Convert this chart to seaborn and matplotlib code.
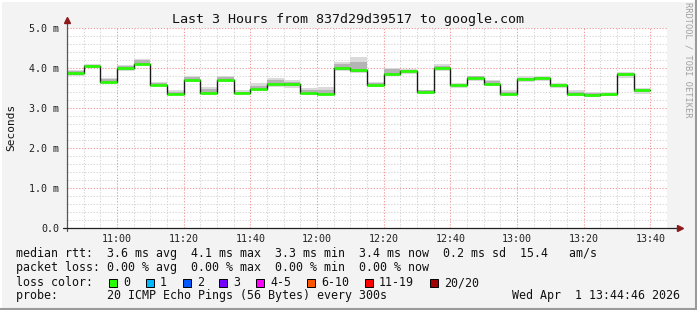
import numpy as np
import pandas as pd
import matplotlib
matplotlib.use("Agg")
import matplotlib.pyplot as plt
from matplotlib.patches import Rectangle
from matplotlib.lines import Line2D
import seaborn as sns

# ---------------- data ----------------
# step start, minutes after 10:45 (each step = 5 min)
step_start = [0, 5, 10, 15, 20, 25, 30, 35, 40, 45, 50, 55, 60, 65, 70, 75, 80,
              85, 90, 95, 100, 105, 110, 115, 120, 125, 130, 135, 140, 145, 150,
              155, 160, 165, 170]
median_ms = [3.87, 4.04, 3.65, 4.00, 4.11, 3.58, 3.36, 3.70, 3.38, 3.71, 3.38, 3.48,
             3.60, 3.60, 3.37, 3.36, 3.99, 3.95, 3.58, 3.86, 3.92, 3.40, 4.00, 3.57,
             3.75, 3.61, 3.34, 3.72, 3.75, 3.57, 3.35, 3.33, 3.34, 3.85, 3.44]
smoke_min = [3.79, 3.99, 3.62, 3.92, 4.07, 3.55, 3.32, 3.66, 3.34, 3.66, 3.34, 3.42,
             3.53, 3.51, 3.33, 3.33, 3.93, 3.87, 3.52, 3.80, 3.84, 3.34, 3.93, 3.49,
             3.67, 3.56, 3.29, 3.66, 3.67, 3.50, 3.30, 3.28, 3.31, 3.76, 3.36]
smoke_max = [3.95, 4.10, 3.76, 4.08, 4.23, 3.64, 3.45, 3.80, 3.53, 3.80, 3.45, 3.62,
             3.74, 3.70, 3.49, 3.53, 4.14, 4.28, 3.66, 4.01, 3.98, 3.46, 4.10, 3.63,
             3.81, 3.70, 3.45, 3.79, 3.81, 3.62, 3.46, 3.41, 3.40, 3.91, 3.51]
inner_lo = [3.82, 4.01, 3.63, 3.96, 4.08, 3.56, 3.34, 3.68, 3.36, 3.69, 3.36, 3.45,
            3.57, 3.56, 3.35, 3.34, 3.96, 3.90, 3.55, 3.83, 3.89, 3.38, 3.97, 3.54,
            3.72, 3.58, 3.32, 3.69, 3.72, 3.53, 3.32, 3.30, 3.31, 3.80, 3.40]
inner_hi = [3.92, 4.08, 3.72, 4.05, 4.20, 3.62, 3.41, 3.77, 3.48, 3.77, 3.41, 3.56,
            3.70, 3.65, 3.45, 3.44, 4.09, 4.15, 3.62, 3.97, 3.96, 3.44, 4.05, 3.60,
            3.79, 3.67, 3.40, 3.76, 3.78, 3.59, 3.40, 3.37, 3.36, 3.88, 3.48]

tick_minutes = [15, 35, 55, 75, 95, 115, 135, 155, 175]
tick_labels = ["11:00", "11:20", "11:40", "12:00", "12:20", "12:40", "13:00", "13:20", "13:40"]
y_ticks = [0, 1, 2, 3, 4, 5]
y_tick_labels = ["0.0", "1.0 m", "2.0 m", "3.0 m", "4.0 m", "5.0 m"]

loss_labels = ["0", "1", "2", "3", "4-5", "6-10", "11-19", "20/20"]
loss_colors = ["#26ff00", "#00b8ff", "#0059ff", "#7400ff", "#ff00ff", "#ff5500", "#ff0000", "#a10000"]

title = "Last 3 Hours from 837d29d39517 to google.com"
line_rtt = "median rtt:  3.6 ms avg  4.1 ms max  3.3 ms min  3.4 ms now  0.2 ms sd  15.4   am/s"
line_loss = "packet loss: 0.00 % avg  0.00 % max  0.00 % min  0.00 % now"
line_probe = "probe:       20 ICMP Echo Pings (56 Bytes) every 300s"
stamp = "Wed Apr  1 13:44:46 2026"
step_len = 5
x_span = 180

# ---------------- figure ----------------
sns.set_style("white")
plt.rcParams["font.family"] = ["DejaVu Sans Mono"]

W, H = 697, 310
fig = plt.figure(figsize=(W / 100, H / 100), dpi=100)
fig.patch.set_facecolor("#f3f3f3")
ax = fig.add_axes([67 / W, (H - 228) / H, 600 / W, 200 / H])
ax.set_facecolor("white")

df = pd.DataFrame({"t": step_start, "median": median_ms, "lo": smoke_min, "hi": smoke_max,
                   "ilo": inner_lo, "ihi": inner_hi})
ext = pd.concat([df, df.iloc[[-1]].assign(t=df["t"].iloc[-1] + step_len)], ignore_index=True)

# grid
for m in range(5, x_span, 5):
    major = m in tick_minutes
    ax.axvline(m, color="#f19a9a" if major else "#d4d4d4", lw=0.75,
               ls=(0, (1.2, 1.6)), zorder=0.5)
for v in np.arange(0.2, 5.01, 0.2):
    major = abs(v - round(v)) < 1e-6
    ax.axhline(v, color="#f19a9a" if major else "#d4d4d4", lw=0.75,
               ls=(0, (1.2, 1.6)), zorder=0.5)

# smoke
ax.fill_between(ext["t"], ext["lo"], ext["hi"], step="post", color="#dadada", lw=0, zorder=1)
ax.fill_between(ext["t"], ext["ilo"], ext["ihi"], step="post", color="#b4b4b4", lw=0, zorder=1.1)

# median
sns.lineplot(data=ext, x="t", y="median", drawstyle="steps-post", color="#1a1a1a",
             lw=1.0, ax=ax, zorder=2, estimator=None)
ax.hlines(df["median"], df["t"], df["t"] + step_len, color="#26ff00", lw=1.9, zorder=3)

ax.set_xlim(0, x_span)
ax.set_ylim(0, 5)
ax.set_xticks(tick_minutes)
ax.set_xticklabels(tick_labels, fontsize=7.2, color="#202020")
ax.set_yticks(y_ticks)
ax.set_yticklabels(y_tick_labels, fontsize=7.2, color="#202020")
ax.tick_params(axis="x", length=2.5, color="#f19a9a", pad=1.8, direction="out")
ax.tick_params(axis="y", length=0, pad=5.8)
ax.set_xlabel("")
ax.set_ylabel("")
for s in ax.spines.values():
    s.set_visible(False)

# axes with arrows
ax.plot([0, 0], [-0.015, 1.035], transform=ax.transAxes, color="#555555", lw=0.9, clip_on=False, zorder=4)
ax.plot([-0.006, 1.02], [0, 0], transform=ax.transAxes, color="#202020", lw=0.9, clip_on=False, zorder=4)
ax.plot([0], [1.04], marker="^", ms=4, color="#8b1a1a", transform=ax.transAxes, clip_on=False, zorder=5)
ax.plot([1.022], [0], marker=">", ms=4, color="#8b1a1a", transform=ax.transAxes, clip_on=False, zorder=5)


def fx(x):
    return x / W


def fy(y):
    return 1 - y / H


fig.text(fx(348), fy(19), title, ha="center", va="center", fontsize=9.6, color="#111111")
fig.text(fx(11), fy(127), "Seconds", ha="center", va="center", rotation=90, fontsize=8, color="#111111")
fig.text(fx(688), fy(60), "RRDTOOL / TOBI OETIKER", ha="center", va="center", rotation=270,
         fontsize=6.2, color="#a0a0a0")

fs = 8.4
fig.text(fx(16), fy(254), line_rtt, ha="left", va="center", fontsize=fs, color="#111111")
fig.text(fx(16), fy(268), line_loss, ha="left", va="center", fontsize=fs, color="#111111")
fig.text(fx(16), fy(282), "loss color:", ha="left", va="center", fontsize=fs, color="#111111")
fig.text(fx(16), fy(296), line_probe, ha="left", va="center", fontsize=fs, color="#111111")
fig.text(fx(680), fy(296), stamp, ha="right", va="center", fontsize=fs, color="#111111")

box_x = [109, 146, 183, 219, 256, 307, 365, 430]
for bx, lab, col in zip(box_x, loss_labels, loss_colors):
    fig.patches.append(Rectangle((fx(bx), fy(287)), 8 / W, 8 / H, transform=fig.transFigure,
                                 facecolor=col, edgecolor="#000000", lw=0.7))
    fig.text(fx(bx + 14), fy(282.5), lab, ha="left", va="center", fontsize=fs, color="#111111")

# frame
fig.lines.append(Line2D([0, 1], [fy(1), fy(1)], transform=fig.transFigure, color="white", lw=1.5))
fig.lines.append(Line2D([fx(1), fx(1)], [0, 1], transform=fig.transFigure, color="white", lw=1.5))
fig.lines.append(Line2D([fx(696), fx(696)], [0, 1], transform=fig.transFigure, color="#9a9a9a", lw=1.5))
fig.lines.append(Line2D([0, 1], [fy(309), fy(309)], transform=fig.transFigure, color="#9a9a9a", lw=1.5))

fig.savefig("out.png", dpi=100, facecolor=fig.get_facecolor())
